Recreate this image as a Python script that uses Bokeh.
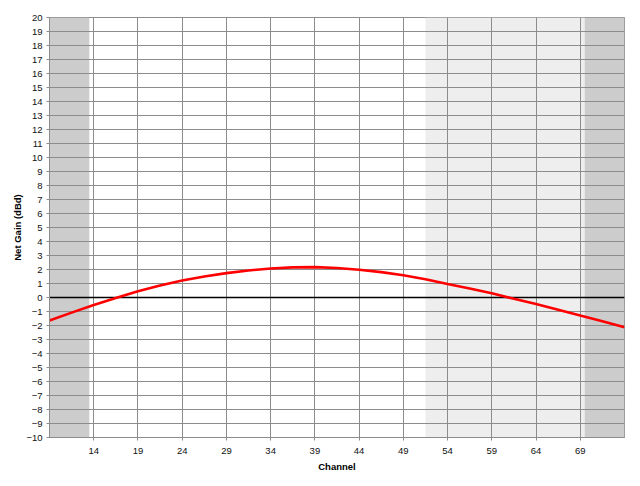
from bokeh.plotting import figure
from bokeh.models import FixedTicker, Range1d
from bokeh.embed import file_html
from bokeh.resources import INLINE

# --- data ---
channels = [9, 11.5, 14, 16.5, 19, 21.5, 24, 26.5, 29, 31.5, 34, 36.5, 39, 41.5,
            44, 46.5, 49, 51.5, 54, 56.5, 59, 61.5, 64, 66.5, 69, 71.5, 74]
gain = [-1.64, -1.08, -0.54, -0.04, 0.45, 0.86, 1.21, 1.50, 1.74, 1.93, 2.07, 2.15,
        2.17, 2.11, 1.98, 1.81, 1.59, 1.31, 0.97, 0.64, 0.30, -0.09, -0.46, -0.87,
        -1.29, -1.70, -2.12]
x_ticks = [14, 19, 24, 29, 34, 39, 44, 49, 54, 59, 64, 69]
y_ticks = list(range(-10, 21))
band_left = [9, 51.5, 69.5]
band_right = [13.5, 69.5, 74]
band_color = ["#CCCCCC", "#EEEEEE", "#CCCCCC"]
x_min, x_max = 9, 74
y_min, y_max = -10, 20

FONT = "Liberation Sans"
GRID = "#8C8C8C"

p = figure(width=640, height=486,
           x_range=Range1d(x_min, x_max), y_range=Range1d(y_min, y_max),
           output_backend="svg", toolbar_location=None,
           min_border_left=49, min_border_right=16,
           min_border_top=17, min_border_bottom=49)

p.background_fill_color = "white"
p.border_fill_color = "white"
p.outline_line_color = GRID
p.outline_line_width = 1

# shaded bands
bands = p.quad(left=band_left, right=band_right,
               bottom=[y_min] * len(band_left), top=[y_max] * len(band_left),
               fill_color=band_color, line_color=None)
bands.level = "image"

# grid
for g in (p.xgrid, p.ygrid):
    g.grid_line_color = GRID
    g.grid_line_width = 1
p.xgrid.ticker = FixedTicker(ticks=x_ticks)
p.ygrid.ticker = FixedTicker(ticks=y_ticks)

# zero line
p.hspan(y=[0], line_color="black", line_width=1.5)

# gain curve
p.line(channels, gain, line_color="#FF0000", line_width=2.6)

# axes
p.xaxis.ticker = FixedTicker(ticks=x_ticks)
p.yaxis.ticker = FixedTicker(ticks=y_ticks)
for ax in (p.xaxis[0], p.yaxis[0]):
    ax.axis_line_color = GRID
    ax.major_tick_line_color = GRID
    ax.major_tick_out = 3
    ax.major_tick_in = 0
    ax.minor_tick_line_color = None
    ax.major_label_text_font = FONT
    ax.major_label_text_font_size = "9.5px"
    ax.major_label_text_color = "#111111"
    ax.axis_label_text_font = FONT
    ax.axis_label_text_font_size = "9.5px"
    ax.axis_label_text_font_style = "bold"
    ax.axis_label_text_color = "black"

p.xaxis.axis_label = "Channel"
p.yaxis.axis_label = "Net Gain (dBd)"
p.xaxis.major_label_standoff = 7
p.xaxis.axis_label_standoff = 4
p.yaxis.major_label_standoff = 4
p.yaxis.axis_label_standoff = 0

open("out.html", "w").write(file_html(p, INLINE))
